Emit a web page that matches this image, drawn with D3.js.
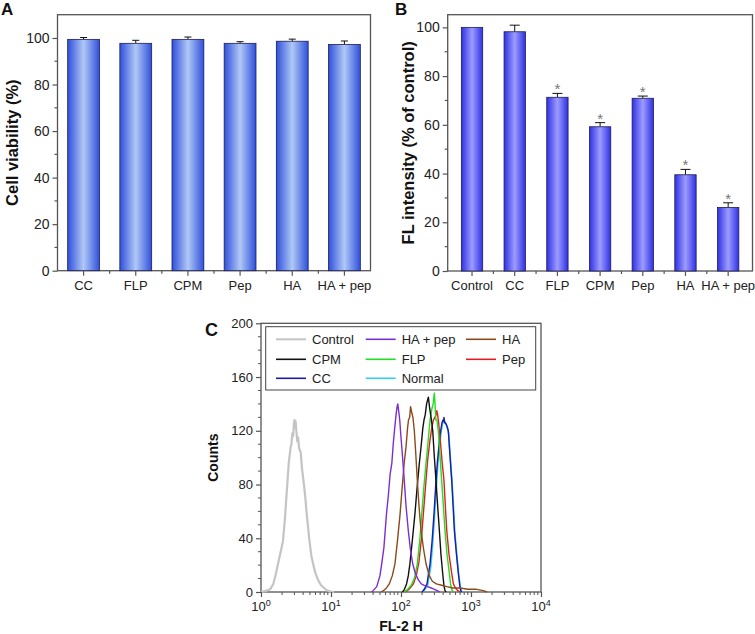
<!DOCTYPE html>
<html><head><meta charset="utf-8">
<script src="https://cdn.jsdelivr.net/npm/d3@7"></script>
<style>body{margin:0;background:#fff}svg{display:block;font-family:"Liberation Sans",Arial,sans-serif}</style>
</head><body>
<svg id="c" width="755" height="634"></svg>
<script>
// ---------- Panel A data ----------
const catA = ["CC","FLP","CPM","Pep","HA","HA + pep"];
const valA = [99.4, 97.7, 99.4, 97.7, 98.6, 97.2];
const errA = [0.8, 1.3, 1.0, 0.7, 0.9, 1.5];
const yTicksA = [0,20,40,60,80,100];
// ---------- Panel B data ----------
const catB = ["Control","CC","FLP","CPM","Pep","HA","HA + pep"];
const valB = [100, 98.2, 71.3, 59.2, 70.9, 39.5, 26.1];
const errB = [0, 2.7, 1.6, 1.7, 0.9, 2.2, 1.9];
const sigB = [false,false,true,true,true,true,true];
const yTicksB = [0,20,40,60,80,100];
// ---------- Panel C data ----------
const xTicksC = [1,10,100,1000,10000];
const xTickExpC = ["0","1","2","3","4"];
const yTicksC = [0,40,80,120,160,200];
const legendNames = ["Control","HA + pep","HA","CPM","FLP","Pep","CC","Normal"];
const seriesColors = {"Control":"#c4c4c4","HA + pep":"#7a2fd0","HA":"#8a4a1c","CPM":"#111111","FLP":"#22dd22","Pep":"#e02020","CC":"#1c1ca8","Normal":"#33ccee"};
const histControl = [[1.0,0],[1.1,0.5],[1.2,1],[1.35,2],[1.5,6],[1.64,14],[1.8,24],[1.95,32],[2.06,38],[2.2,55],[2.3,70],[2.38,81],[2.5,97],[2.6,104],[2.65,108],[2.72,110],[2.8,118],[2.88,116],[2.95,125],[3.0,128],[3.06,122],[3.12,127],[3.2,120],[3.3,112],[3.4,115],[3.5,107],[3.69,104],[3.85,92],[4.11,80],[4.3,70],[4.5,58],[4.69,49],[4.9,39],[5.24,27],[5.6,20],[6.0,14],[6.52,9],[7.2,5],[8.0,3],[8.6,1.5],[9.5,0.5],[11,0]];
const histHApep = [[38,0],[40,1],[45,4],[50,12],[53,21],[57,33],[62,58],[66,72],[70,88],[74,96],[78,112],[82,124],[85,132],[88,138],[90,140],[93,134],[96,128],[99,118],[104,104],[111,84],[118,64],[127,46],[136,32],[147,21],[160,14],[177,9],[195,6],[215,5],[240,4],[270,3],[300,2],[330,1],[360,0]];
const histHA = [[52,0],[56,1],[62,3],[68,6],[75,12],[82,21],[89,38],[97,58],[104,78],[111,96],[118,108],[124,122],[128,128],[133,130],[137,138],[142,134],[148,130],[155,120],[163,102],[171,83],[182,62],[193,46],[210,32],[228,21],[250,13],[280,8],[320,6],[380,5],[450,4],[550,3],[700,3],[900,2],[1200,2],[1500,1],[1700,0]];
const histCPM = [[105,0],[112,2],[120,6],[127,12],[134,21],[145,38],[158,58],[170,78],[183,96],[195,110],[205,122],[213,128],[222,132],[232,140],[240,143],[246,145],[255,138],[265,132],[275,126],[284,120],[300,100],[316,83],[334,64],[353,46],[372,28],[394,14],[410,5],[425,1],[440,0]];
const histFLP = [[110,0],[125,2],[140,5],[155,10],[171,21],[185,38],[198,58],[212,78],[228,96],[244,112],[260,128],[275,136],[288,140],[296,146],[300,148],[306,140],[315,128],[326,128],[341,120],[360,102],[381,83],[403,64],[425,46],[455,28],[490,14],[510,6],[530,2],[560,0]];
const histPep = [[115,0],[130,2],[150,6],[165,12],[180,22],[196,40],[210,60],[225,80],[240,98],[258,112],[275,122],[290,128],[305,130],[318,132],[324,135],[332,133],[345,126],[365,112],[388,96],[411,83],[430,64],[450,46],[485,28],[530,14],[560,6],[600,3],[650,1],[700,0]];
const histCC = [[200,0],[215,2],[235,6],[260,21],[278,38],[296,58],[312,78],[330,96],[350,110],[369,120],[385,126],[398,128],[405,127],[411,130],[420,126],[432,126],[450,124],[474,120],[500,102],[530,83],[555,64],[578,46],[620,28],[659,14],[690,5],[713,1],[740,0]];
const histNormal = [[205,0],[220,2],[240,5],[265,18],[283,35],[300,55],[318,76],[336,95],[355,108],[374,119],[390,125],[404,127],[414,128],[424,126],[438,125],[456,123],[480,118],[507,100],[537,82],[563,63],[587,45],[628,27],[668,13],[700,5],[725,1],[750,0]];

const svg = d3.select("#c");
const defs = svg.append("defs");
function grad(id, edge, mid){
  const g = defs.append("linearGradient").attr("id",id).attr("x1","0").attr("x2","1").attr("y1","0").attr("y2","0");
  g.append("stop").attr("offset","0%").attr("stop-color",edge);
  g.append("stop").attr("offset","50%").attr("stop-color",mid);
  g.append("stop").attr("offset","100%").attr("stop-color",edge);
}
grad("gA","#2f50dc","#b0c8f6");
grad("gB","#3030e4","#9c9cff");

const axisCol = "#555";

function barPanel(o){
  const g = svg.append("g");
  const x = d3.scaleBand().domain(o.cats).range([o.x0,o.x1]).paddingInner(0).paddingOuter(o.pad);
  const y = d3.scaleLinear().domain([0,o.ymax]).range([o.y1,o.y0]);
  g.append("rect").attr("x",o.x0).attr("y",o.y0).attr("width",o.x1-o.x0).attr("height",o.y1-o.y0)
    .attr("fill","none").attr("stroke",axisCol).attr("stroke-width",1.3);
  const bw = x.step()*o.bf;
  o.cats.forEach((c,i)=>{
    const cx = x(c)+x.bandwidth()/2;
    const v = o.vals[i], e = o.errs[i];
    if(e>0){
      g.append("line").attr("x1",cx).attr("x2",cx).attr("y1",y(v)).attr("y2",y(v+e)).attr("stroke","#111").attr("stroke-width",1);
      g.append("line").attr("x1",cx-o.cap/2).attr("x2",cx+o.cap/2).attr("y1",y(v+e)).attr("y2",y(v+e)).attr("stroke","#111").attr("stroke-width",1);
    }
    g.append("rect").attr("x",cx-bw/2).attr("y",y(v)).attr("width",bw).attr("height",y(0)-y(v))
      .attr("fill",`url(#${o.grad})`).attr("stroke","#1d1d50").attr("stroke-width",0.8);
    if(o.sig && o.sig[i]){
      g.append("text").attr("x",cx).attr("y",y(v+e)+1).attr("text-anchor","middle").attr("font-size",15).attr("fill","#777").text("*");
    }
  });
  const ya = d3.axisLeft(y).tickValues(o.yticks).tickSize(5).tickPadding(3).tickFormat(d3.format("d"));
  const yg = g.append("g").attr("transform",`translate(${o.x0},0)`).call(ya);
  yg.select(".domain").remove();
  yg.selectAll("line").attr("stroke",axisCol).attr("stroke-width",1.2);
  yg.selectAll("text").attr("font-size",14).attr("fill","#222").attr("font-family","Liberation Sans, Arial");
  const minorY = d3.range(10,o.ymax,20);
  g.selectAll(null).data(minorY).enter().append("line").attr("x1",o.x0-3).attr("x2",o.x0).attr("y1",d=>y(d)).attr("y2",d=>y(d)).attr("stroke",axisCol).attr("stroke-width",1.2);
  const xa = d3.axisBottom(x).tickSize(5).tickPadding(5);
  const xg = g.append("g").attr("transform",`translate(0,${o.y1})`).call(xa);
  xg.select(".domain").remove();
  xg.selectAll("line").attr("stroke",axisCol).attr("stroke-width",1.2);
  xg.selectAll("text").attr("font-size",13).attr("fill","#222").attr("font-family","Liberation Sans, Arial");
  const bounds = o.cats.slice(1).map(c=>x(c));
  g.selectAll(null).data(bounds).enter().append("line").attr("x1",d=>d).attr("x2",d=>d).attr("y1",o.y1).attr("y2",o.y1+3).attr("stroke",axisCol).attr("stroke-width",1.2);
  g.append("text").attr("transform",`translate(${o.ylx},${(o.y0+o.y1)/2}) rotate(-90)`).attr("text-anchor","middle")
    .attr("font-size",o.yls).attr("font-weight","bold").attr("fill","#111").text(o.ylabel);
  g.append("text").attr("x",o.px).attr("y",15).attr("font-size",17).attr("font-weight","bold").attr("fill","#111").text(o.plabel);
}

barPanel({cats:catA,vals:valA,errs:errA,x0:57.5,x1:370.5,y0:14.7,y1:270.7,ymax:110,pad:0,bf:0.61,cap:7,grad:"gA",
  yticks:yTicksA,ylabel:"Cell viability (%)",ylx:18,yls:16.5,plabel:"A",px:1});
barPanel({cats:catB,vals:valB,errs:errB,sig:sigB,x0:447.7,x1:752.5,y0:14.7,y1:271,ymax:105.2,pad:0.07,bf:0.5,cap:10,grad:"gB",
  yticks:yTicksB,ylabel:"FL intensity (% of control)",ylx:414,yls:16.5,plabel:"B",px:395});

// ---------- Panel C ----------
const gc = svg.append("g");
const cx0=261, cx1=541, cy0=323.3, cy1=592;
const xC = d3.scaleLog().domain([1,10000]).range([cx0,cx1]);
const yC = d3.scaleLinear().domain([0,200]).range([cy1,cy0]);
gc.append("rect").attr("x",cx0).attr("y",cy0).attr("width",cx1-cx0).attr("height",cy1-cy0).attr("fill","none").attr("stroke",axisCol).attr("stroke-width",1.3);
const line = d3.line().x(d=>xC(d[0])).y(d=>yC(d[1]));
const seriesData = [["Control",histControl,2.2],["Normal",histNormal,1.6],["CC",histCC,1.4],["Pep",histPep,1.4],["FLP",histFLP,1.4],["CPM",histCPM,1.4],["HA",histHA,1.4],["HA + pep",histHApep,1.4]];
seriesData.forEach(([n,d,w])=>{
  gc.append("path").datum(d).attr("d",line).attr("fill","none").attr("stroke",seriesColors[n]).attr("stroke-width",w).attr("stroke-linejoin","round");
});
const yaC = d3.axisLeft(yC).tickValues(yTicksC).tickSize(5).tickPadding(3);
const ygC = gc.append("g").attr("transform",`translate(${cx0},0)`).call(yaC);
ygC.select(".domain").remove();
ygC.selectAll("line").attr("stroke",axisCol).attr("stroke-width",1.2);
ygC.selectAll("text").attr("font-size",13).attr("fill","#222").attr("font-family","Liberation Sans, Arial");
gc.selectAll(null).data(d3.range(10,200,10).filter(v=>v%40!==0)).enter().append("line")
  .attr("x1",cx0-3).attr("x2",cx0).attr("y1",d=>yC(d)).attr("y2",d=>yC(d)).attr("stroke",axisCol).attr("stroke-width",1);
const minorX = [];
[1,10,100,1000].forEach(b=>{for(let k=2;k<=9;k++) minorX.push(b*k);});
gc.selectAll(null).data(minorX).enter().append("line").attr("x1",d=>xC(d)).attr("x2",d=>xC(d)).attr("y1",cy1).attr("y2",cy1+3).attr("stroke",axisCol).attr("stroke-width",1);
const xaC = d3.axisBottom(xC).tickValues(xTicksC).tickSize(5).tickFormat(()=>"");
const xgC = gc.append("g").attr("transform",`translate(0,${cy1})`).call(xaC);
xgC.select(".domain").remove();
xgC.selectAll("line").attr("stroke",axisCol).attr("stroke-width",1.2);
xTicksC.forEach((v,i)=>{
  const t = gc.append("text").attr("x",xC(v)).attr("y",611).attr("text-anchor","middle").attr("font-size",13).attr("fill","#222");
  t.append("tspan").text("10");
  t.append("tspan").attr("dy",-5).attr("font-size",9).text(xTickExpC[i]);
});
gc.append("text").attr("x",(cx0+cx1)/2).attr("y",631).attr("text-anchor","middle").attr("font-size",14).attr("font-weight","bold").attr("fill","#111").text("FL-2 H");
gc.append("text").attr("transform",`translate(218,${(cy0+cy1)/2}) rotate(-90)`).attr("text-anchor","middle").attr("font-size",14).attr("font-weight","bold").attr("fill","#111").text("Counts");
gc.append("text").attr("x",205).attr("y",336).attr("font-size",18).attr("font-weight","bold").attr("fill","#111").text("C");
gc.append("rect").attr("x",265.7).attr("y",326.7).attr("width",270).attr("height",63.3).attr("fill","#fff").attr("stroke","#444").attr("stroke-width",1);
const colX = [276,365.7,466], rowY = [339.3,359.3,378.3];
legendNames.forEach((n,i)=>{
  const lx = colX[i%3], ly = rowY[Math.floor(i/3)];
  gc.append("line").attr("x1",lx).attr("x2",lx+30).attr("y1",ly).attr("y2",ly).attr("stroke",seriesColors[n]).attr("stroke-width",n==="Control"?2:1.6);
  gc.append("text").attr("x",lx+36).attr("y",ly+4.5).attr("font-size",13).attr("fill","#222").text(n);
});
</script>
</body></html>
